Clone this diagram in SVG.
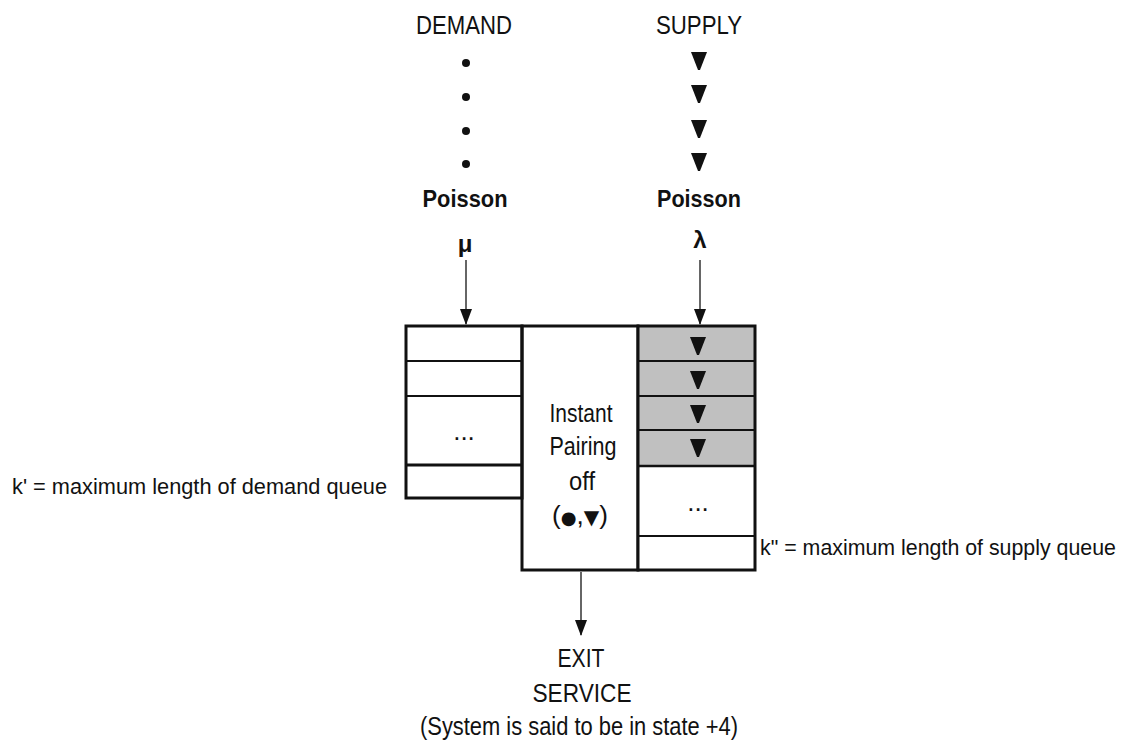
<svg xmlns="http://www.w3.org/2000/svg" width="1140" height="741" viewBox="0 0 1140 741">
  <defs>
    <style>
      .lbl { font-family: "Liberation Sans", Arial, sans-serif; font-size: 26px; fill: #111; }
      .note { font-family: "Liberation Sans", Arial, sans-serif; font-size: 22px; fill: #111; }
      .bold { font-family: "Liberation Sans", Arial, sans-serif; font-size: 24px; font-weight: bold; fill: #111; }
      .sym { font-family: "DejaVu Sans", sans-serif; fill: #111; }
      .frame { fill: none; stroke: #111; stroke-width: 3; }
      .row { stroke: #111; stroke-width: 2; }
      .flow { stroke: #333; stroke-width: 1.5; fill: none; marker-end: url(#head); }
    </style>
    <!-- arrowhead pointing along the line direction -->
    <marker id="head" viewBox="0 0 16 12" refX="15" refY="6" markerWidth="16" markerHeight="12" markerUnits="userSpaceOnUse" orient="auto">
      <path d="M0,0 L16,6 L0,12 Z" fill="#111"/>
    </marker>
    <path id="tri" d="M-8,0 L8,0 L1,18 L-1,18 Z" fill="#111"/>
  </defs>

  <!-- demand source -->
  <g id="demand">
    <text class="lbl" x="464" y="34" text-anchor="middle" textLength="96" lengthAdjust="spacingAndGlyphs">DEMAND</text>
    <circle cx="466" cy="63" r="4" fill="#111"/>
    <circle cx="466" cy="97" r="4" fill="#111"/>
    <circle cx="466" cy="131" r="4" fill="#111"/>
    <circle cx="466" cy="164" r="4" fill="#111"/>
    <text class="bold" x="465" y="207" text-anchor="middle" textLength="85" lengthAdjust="spacingAndGlyphs">Poisson</text>
    <text class="bold" x="465" y="252" text-anchor="middle" font-size="23">μ</text>
  </g>

  <!-- supply source -->
  <g id="supply">
    <text class="lbl" x="699" y="34" text-anchor="middle" textLength="86" lengthAdjust="spacingAndGlyphs">SUPPLY</text>
    <use href="#tri" x="699" y="52"/>
    <use href="#tri" x="699" y="85"/>
    <use href="#tri" x="699" y="120"/>
    <use href="#tri" x="699" y="153"/>
    <text class="bold" x="699" y="207" text-anchor="middle" textLength="84" lengthAdjust="spacingAndGlyphs">Poisson</text>
    <text class="bold" x="700" y="248" text-anchor="middle" font-size="25">λ</text>
  </g>

  <!-- demand queue -->
  <g id="demand-queue">
    <rect x="406" y="326" width="116" height="172" fill="#fff"/>
    <line class="row" x1="406" y1="361" x2="522" y2="361"/>
    <line class="row" x1="406" y1="396" x2="522" y2="396"/>
    <line x1="406" y1="465" x2="522" y2="465" stroke="#111" stroke-width="3"/>
    <rect class="frame" x="406" y="326" width="116" height="172"/>
    <text class="lbl" x="464" y="440" text-anchor="middle" font-size="22">...</text>
    <text class="note" x="12" y="494" textLength="375" lengthAdjust="spacingAndGlyphs">k' = maximum length of demand queue</text>
  </g>

  <!-- pairing server -->
  <g id="server">
    <rect class="frame" x="522" y="326" width="116" height="244" fill="#fff"/>
    <text class="lbl" x="581" y="422" text-anchor="middle" textLength="63" lengthAdjust="spacingAndGlyphs">Instant</text>
    <text class="lbl" x="583" y="455" text-anchor="middle" textLength="67" lengthAdjust="spacingAndGlyphs">Pairing</text>
    <text class="lbl" x="582" y="490" text-anchor="middle" textLength="26" lengthAdjust="spacingAndGlyphs">off</text>
    <text class="lbl" x="580" y="524" text-anchor="middle" textLength="56" lengthAdjust="spacingAndGlyphs">(<tspan class="sym" font-size="18">●</tspan>,<tspan class="sym" font-size="20">▼</tspan>)</text>
  </g>

  <!-- supply queue -->
  <g id="supply-queue">
    <rect x="638" y="326" width="117" height="244" fill="#fff"/>
    <rect x="638" y="326" width="117" height="140" fill="#c0c0c0"/>
    <line class="row" x1="638" y1="361" x2="755" y2="361"/>
    <line class="row" x1="638" y1="396" x2="755" y2="396"/>
    <line class="row" x1="638" y1="430" x2="755" y2="430"/>
    <line x1="638" y1="466" x2="755" y2="466" stroke="#111" stroke-width="2.5"/>
    <line class="row" x1="638" y1="536" x2="755" y2="536"/>
    <rect class="frame" x="638" y="326" width="117" height="244"/>
    <use href="#tri" x="698" y="337"/>
    <use href="#tri" x="698" y="371"/>
    <use href="#tri" x="698" y="405"/>
    <use href="#tri" x="698" y="439"/>
    <text class="lbl" x="698" y="511" text-anchor="middle" font-size="22">...</text>
    <text class="note" x="760" y="555" textLength="356" lengthAdjust="spacingAndGlyphs">k" = maximum length of supply queue</text>
  </g>

  <!-- exit -->
  <g id="exit">
    <text class="lbl" x="581" y="667" text-anchor="middle" textLength="47" lengthAdjust="spacingAndGlyphs">EXIT</text>
    <text class="lbl" x="582" y="702" text-anchor="middle" textLength="99" lengthAdjust="spacingAndGlyphs">SERVICE</text>
    <text class="lbl" x="579" y="735" text-anchor="middle" textLength="318" lengthAdjust="spacingAndGlyphs">(System is said to be in state +4)</text>
  </g>

  <!-- connectors -->
  <g id="connectors">
    <line class="flow" x1="466" y1="260" x2="466" y2="324"/>
    <line class="flow" x1="700" y1="260" x2="700" y2="324"/>
    <line class="flow" x1="581" y1="572" x2="581" y2="635"/>
  </g>
</svg>
